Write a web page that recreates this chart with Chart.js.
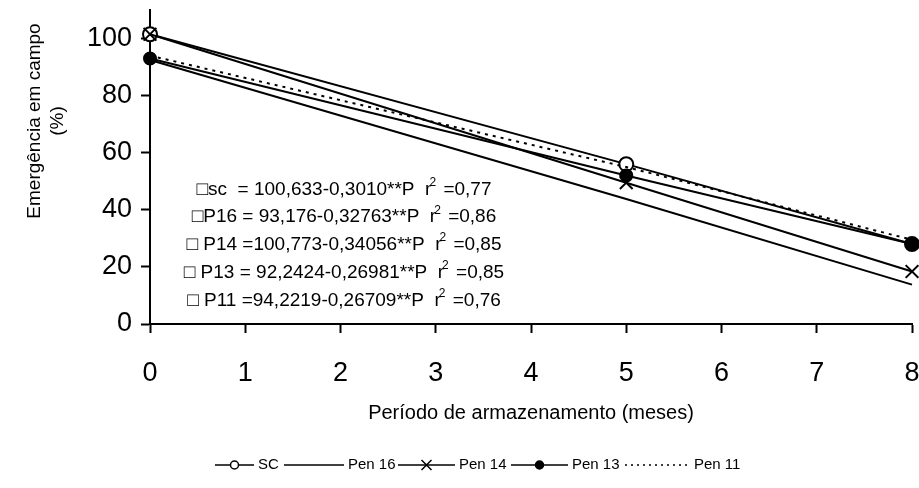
<!DOCTYPE html>
<html>
<head>
<meta charset="utf-8">
<script src="https://cdn.jsdelivr.net/npm/chart.js@4.4.0/dist/chart.umd.min.js"></script>
<style>
  html, body { margin: 0; padding: 0; background: #fff; }
  #wrap { width: 919px; height: 488px; }
</style>
</head>
<body>
<div id="wrap"><canvas id="chart" width="919" height="488"></canvas></div>
<script>
// months of storage
const months = [0, 5, 8];

// field emergence (%)
const sc    = [101.5, 56, 28];
const pen16 = [92.5, 43.8, 13.8];
const pen14 = [101.5, 49.5, 18.4];
const pen13 = [93, 52, 28];
const pen11 = [94, 55, 29.5];

const xTicks = [0, 1, 2, 3, 4, 5, 6, 7, 8];
const yTicks = [0, 20, 40, 60, 80, 100];

// regression equations shown in the plot
const equations = [
  ['\u25A1sc  = 100,633-0,3010**P  r', '2', ' =0,77'],
  ['\u25A1P16 = 93,176-0,32763**P  r', '2', ' =0,86'],
  ['\u25A1 P14 =100,773-0,34056**P  r', '2', ' =0,85'],
  ['\u25A1 P13 = 92,2424-0,26981**P  r', '2', ' =0,85'],
  ['\u25A1 P11 =94,2219-0,26709**P  r', '2', ' =0,76']
];

const FONT = '"Liberation Sans", Arial, sans-serif';

function pts(values) {
  return months.map((m, i) => ({ x: m, y: values[i] }));
}

// lower order is drawn on top, so the cross and the dot sit over the SC circle
const datasets = [
  { label: 'SC', data: pts(sc), pointStyle: 'circle', pointRadius: 7,
    pointBackgroundColor: '#fff', order: 2 },
  { label: 'Pen 16', data: pts(pen16), pointRadius: 0, order: 1 },
  { label: 'Pen 14', data: pts(pen14), pointStyle: 'crossRot', pointRadius: 9, order: 0 },
  { label: 'Pen 13', data: pts(pen13), pointStyle: 'circle', pointRadius: 6,
    pointBackgroundColor: '#000', order: 0 },
  { label: 'Pen 11', data: pts(pen11), pointRadius: 0, borderDash: [3, 5], borderWidth: 2, order: 1 }
].map(d => Object.assign({
  borderColor: '#000',
  borderWidth: 2,
  pointBorderColor: '#000',
  pointBorderWidth: 2,
  tension: 0,
  clip: false,
  fill: false
}, d));

// legend sample line spans (start, end) per item
const legendLines = [[215, 254], [284, 344], [398, 455], [511, 568], [625, 690]];

// y title, equations and legend
const extras = {
  id: 'extras',
  afterDraw(chart) {
    const ctx = chart.ctx;
    ctx.save();
    ctx.fillStyle = '#000';

    // y axis title (two lines)
    ctx.font = '19px ' + FONT;
    ctx.textAlign = 'center';
    ctx.textBaseline = 'middle';
    ctx.translate(35, 121);
    ctx.rotate(-Math.PI / 2);
    ctx.fillText('Emergência em campo', 0, 0);
    ctx.fillText('(%)', 0, 23);
    ctx.setTransform(1, 0, 0, 1, 0, 0);

    // equations
    const cx = 344, y0 = 189.5, dy = 27.7;
    ctx.textAlign = 'left';
    ctx.textBaseline = 'middle';
    equations.forEach((eq, i) => {
      const y = y0 + i * dy;
      ctx.font = '19px ' + FONT;
      const w1 = ctx.measureText(eq[0]).width;
      const w3 = ctx.measureText(eq[2]).width;
      ctx.font = '12px ' + FONT;
      const w2 = ctx.measureText(eq[1]).width;
      let x = cx - (w1 + w2 + w3) / 2;
      ctx.font = '19px ' + FONT;
      ctx.fillText(eq[0], x, y);
      x += w1;
      ctx.font = '12px ' + FONT;
      ctx.fillText(eq[1], x - 2, y - 7);
      x += w2;
      ctx.font = '19px ' + FONT;
      ctx.fillText(eq[2], x, y);
    });

    // legend
    const ly = 465;
    ctx.font = '15px ' + FONT;
    ctx.textBaseline = 'middle';
    ctx.strokeStyle = '#000';
    chart.data.datasets.forEach((ds, i) => {
      const [x0, x1] = legendLines[i];
      ctx.lineWidth = 1.5;
      ctx.setLineDash(ds.borderDash ? [2, 4] : []);
      ctx.beginPath();
      ctx.moveTo(x0, ly);
      ctx.lineTo(x1, ly);
      ctx.stroke();
      ctx.setLineDash([]);
      const mx = (x0 + x1) / 2;
      if (ds.pointRadius > 0) {
        if (ds.pointStyle === 'crossRot') {
          const r = 5;
          ctx.beginPath();
          ctx.moveTo(mx - r, ly - r);
          ctx.lineTo(mx + r, ly + r);
          ctx.moveTo(mx - r, ly + r);
          ctx.lineTo(mx + r, ly - r);
          ctx.stroke();
        } else {
          ctx.beginPath();
          ctx.arc(mx, ly, 4, 0, Math.PI * 2);
          ctx.fillStyle = ds.pointBackgroundColor;
          ctx.fill();
          ctx.stroke();
          ctx.fillStyle = '#000';
        }
      }
      ctx.fillText(ds.label, x1 + 4, ly);
    });
    ctx.restore();
  }
};

new Chart(document.getElementById('chart'), {
  type: 'line',
  data: { datasets },
  plugins: [extras],
  options: {
    responsive: false,
    animation: false,
    layout: { autoPadding: false, padding: { top: 10, right: 7, left: 0, bottom: 0 } },
    plugins: {
      legend: { display: false },
      tooltip: { enabled: false }
    },
    scales: {
      x: {
        type: 'linear',
        min: 0,
        max: 8,
        afterBuildTicks: s => { s.ticks = xTicks.map(v => ({ value: v })); },
        afterFit: s => { s.height = 164; s.paddingLeft = 0; s.paddingRight = 0; },
        grid: { drawOnChartArea: false, tickLength: 9, tickWidth: 2, tickColor: '#000' },
        border: { color: '#000', width: 2 },
        ticks: { color: '#000', padding: 24, font: { family: FONT, size: 27 } },
        title: {
          display: true,
          text: 'Período de armazenamento (meses)',
          color: '#000',
          font: { family: FONT, size: 20 },
          padding: { top: 0, bottom: 63 }
        }
      },
      y: {
        min: 0,
        max: 110,
        afterBuildTicks: s => { s.ticks = yTicks.map(v => ({ value: v })); },
        afterFit: s => { s.width = 150; s.paddingTop = 0; s.paddingBottom = 0; },
        grid: { drawOnChartArea: false, tickLength: 9, tickWidth: 2, tickColor: '#000' },
        border: { color: '#000', width: 2 },
        ticks: { color: '#000', padding: 9, font: { family: FONT, size: 27 } }
      }
    }
  }
});
</script>
</body>
</html>
